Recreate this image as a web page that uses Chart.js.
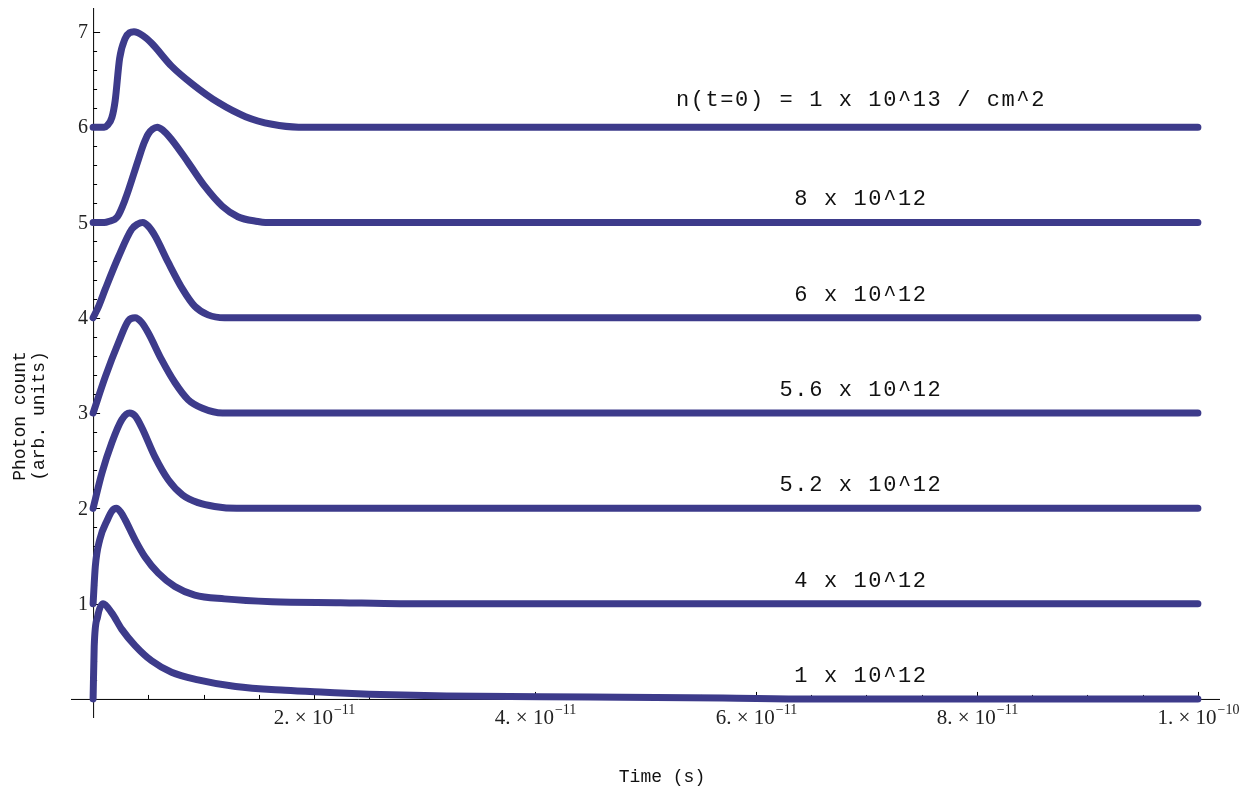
<!DOCTYPE html>
<html>
<head>
<meta charset="utf-8">
<title>Photon count vs time</title>
<script src="https://cdn.jsdelivr.net/npm/chart.js@4/dist/chart.umd.min.js"></script>
<style>
	html, body { margin: 0; padding: 0; background: #fff; }
	#wrapper { width: 1253px; height: 790px; }
</style>
</head>
<body>
<div id="wrapper">
	<canvas id="photon-chart" width="1253" height="790"></canvas>
</div>
<script>
// time in units of 1e-11 s, photon count in arb. units (each curve offset by 1)
const t1e12 = [0, 0.01, 0.04, 0.09, 0.17, 0.26, 0.38, 0.53, 0.71, 0.95, 1.29, 1.74, 2.1, 2.5, 3.2, 4.5, 5.7, 6.5, 10];
const y1e12 = [0, 0.55, 0.86, 1.0, 0.9, 0.73, 0.56, 0.4, 0.28, 0.2, 0.13, 0.09, 0.07, 0.05, 0.03, 0.02, 0.01, 0, 0];

const t4e12 = [0, 0.02, 0.06, 0.13, 0.17, 0.21, 0.25, 0.29, 0.38, 0.47, 0.59, 0.74, 0.92, 1.19, 1.62, 2.24, 2.78, 10];
const y4e12 = [1, 1.39, 1.67, 1.88, 1.97, 2.0, 1.96, 1.88, 1.67, 1.49, 1.32, 1.18, 1.09, 1.05, 1.02, 1.01, 1.0, 1];

const t52e12 = [0, 0.08, 0.17, 0.26, 0.33, 0.38, 0.44, 0.56, 0.68, 0.81, 0.95, 1.1, 1.3, 10];
const y52e12 = [2, 2.37, 2.69, 2.93, 3.0, 2.97, 2.85, 2.54, 2.3, 2.14, 2.06, 2.02, 2.0, 2];

const t56e12 = [0, 0.11, 0.23, 0.32, 0.38, 0.44, 0.5, 0.62, 0.74, 0.86, 0.99, 1.17, 10];
const y56e12 = [3, 3.38, 3.74, 3.97, 4.0, 3.95, 3.84, 3.56, 3.32, 3.14, 3.05, 3.0, 3];

const t6e12 = [0, 0.05, 0.11, 0.23, 0.35, 0.4, 0.45, 0.5, 0.56, 0.68, 0.81, 0.92, 1.04, 1.19, 10];
const y6e12 = [4, 4.12, 4.3, 4.64, 4.93, 4.98, 5.0, 4.96, 4.86, 4.58, 4.3, 4.12, 4.03, 4.0, 4];

const t8e12 = [0, 0.1, 0.14, 0.22, 0.29, 0.41, 0.46, 0.5, 0.54, 0.58, 0.63, 0.71, 0.86, 1.01, 1.17, 1.31, 1.49, 1.56, 10];
const y8e12 = [5, 5, 5.01, 5.06, 5.24, 5.66, 5.83, 5.93, 5.98, 6.0, 5.97, 5.87, 5.63, 5.38, 5.17, 5.06, 5.01, 5.0, 5];

const t1e13 = [0, 0.1, 0.13, 0.17, 0.2, 0.24, 0.29, 0.33, 0.37, 0.45, 0.53, 0.71, 0.9, 1.13, 1.38, 1.62, 1.86, 10];
const y1e13 = [6, 6, 6.02, 6.1, 6.28, 6.72, 6.93, 6.99, 7.0, 6.96, 6.88, 6.64, 6.45, 6.26, 6.11, 6.03, 6.0, 6];

const seriesLabels = [
	"1 x 10^12",
	"4 x 10^12",
	"5.2 x 10^12",
	"5.6 x 10^12",
	"6 x 10^12",
	"8 x 10^12",
	"n(t=0) = 1 x 10^13 / cm^2",
];
const seriesLevels = [0, 1, 2, 3, 4, 5, 6];

const yTickValues = [1, 2, 3, 4, 5, 6, 7];
const xTickValues = [2, 4, 6, 8, 10];
const xTickMantissa = ["2.", "4.", "6.", "8.", "1."];
const xTickExponent = ["\u221211", "\u221211", "\u221211", "\u221211", "\u221210"];

const LINE_COLOR = "#3d3b8b";
const MONO = "'Liberation Mono', 'Courier New', monospace";
const SERIF = "'Liberation Serif', 'Times New Roman', serif";

function toPoints(ts, ys) {
	return ts.map((t, i) => ({ x: t, y: ys[i] }));
}

let allSeries = [
	[t1e12, y1e12],
	[t4e12, y4e12],
	[t52e12, y52e12],
	[t56e12, y56e12],
	[t6e12, y6e12],
	[t8e12, y8e12],
	[t1e13, y1e13],
];

let datasets = allSeries.map((s, i) => ({
	label: seriesLabels[i],
	data: toPoints(s[0], s[1]),
	borderColor: LINE_COLOR,
	backgroundColor: LINE_COLOR,
	borderWidth: 7,
	pointRadius: 0,
	cubicInterpolationMode: "monotone",
	borderCapStyle: "round",
	borderJoinStyle: "round",
	clip: false,
}));

// Mathematica-style axes crossing at the origin, minor ticks and text
const axesPlugin = {
	id: "mmaAxes",
	beforeDatasetsDraw(chart) {
		let { ctx, chartArea, scales } = chart;
		let xs = scales.x, ys = scales.y;
		let x0 = xs.getPixelForValue(0);
		let y0 = ys.getPixelForValue(0);

		ctx.save();
		ctx.strokeStyle = "#000";
		ctx.lineWidth = 1;
		ctx.beginPath();
		ctx.moveTo(chartArea.left, y0 + 0.5);
		ctx.lineTo(chartArea.right, y0 + 0.5);
		ctx.moveTo(x0 + 0.5, chartArea.top);
		ctx.lineTo(x0 + 0.5, chartArea.bottom);
		ctx.stroke();

		// y ticks: major every 1, minor every 0.2
		ctx.beginPath();
		for (let k = 1; k <= 35; k++) {
			let v = k / 5;
			let py = Math.round(ys.getPixelForValue(v)) + 0.5;
			let len = k % 5 === 0 ? 7 : 4;
			ctx.moveTo(x0, py);
			ctx.lineTo(x0 + len, py);
		}
		// x ticks: major every 2, minor every 0.5
		for (let k = 1; k <= 20; k++) {
			let v = k / 2;
			let px = Math.round(xs.getPixelForValue(v)) + 0.5;
			let len = k % 4 === 0 ? 7 : 4;
			ctx.moveTo(px, y0);
			ctx.lineTo(px, y0 - len);
		}
		ctx.stroke();

		ctx.fillStyle = "#222";
		ctx.font = "20px " + SERIF;
		ctx.textAlign = "right";
		ctx.textBaseline = "middle";
		yTickValues.forEach((v) => {
			ctx.fillText(String(v), x0 - 5, ys.getPixelForValue(v) + 1);
		});

		ctx.textAlign = "left";
		ctx.textBaseline = "alphabetic";
		xTickValues.forEach((v, i) => {
			let base = xTickMantissa[i] + " \u00d7 10";
			ctx.font = "21px " + SERIF;
			let wBase = ctx.measureText(base).width;
			ctx.font = "14px " + SERIF;
			let wExp = ctx.measureText(xTickExponent[i]).width;
			let left = xs.getPixelForValue(v) - (wBase + wExp) / 2;
			ctx.font = "21px " + SERIF;
			ctx.fillText(base, left, y0 + 25);
			ctx.font = "14px " + SERIF;
			ctx.fillText(xTickExponent[i], left + wBase + 1, y0 + 15);
		});

		// axis titles
		ctx.fillStyle = "#111";
		ctx.font = "18px " + MONO;
		ctx.textAlign = "center";
		ctx.textBaseline = "middle";
		ctx.fillText("Time (s)", 662, 777);

		ctx.save();
		ctx.translate(20, 416);
		ctx.rotate(-Math.PI / 2);
		ctx.fillText("Photon count", 0, 0);
		ctx.restore();
		ctx.save();
		ctx.translate(39, 416);
		ctx.rotate(-Math.PI / 2);
		ctx.fillText("(arb. units)", 0, 0);
		ctx.restore();

		ctx.restore();
	},
	afterDatasetsDraw(chart) {
		let { ctx, scales } = chart;
		ctx.save();
		ctx.fillStyle = "#111";
		ctx.font = "22px " + MONO;
		ctx.letterSpacing = "1.6px";
		ctx.textAlign = "center";
		ctx.textBaseline = "middle";
		seriesLabels.forEach((lbl, i) => {
			let px = scales.x.getPixelForValue(6.95);
			let lift = i === 6 ? 0.28 : 0.24;
			let py = scales.y.getPixelForValue(seriesLevels[i] + lift);
			ctx.fillText(lbl, px, py);
		});
		ctx.restore();
	},
};

let ctx = document.getElementById("photon-chart").getContext("2d");
let photonChart = new Chart(ctx, {
	type: "line",
	data: { datasets: datasets },
	options: {
		responsive: false,
		animation: false,
		layout: {
			padding: { left: 71, right: 33, top: 8, bottom: 72 },
		},
		scales: {
			x: { type: "linear", min: -0.2, max: 10.2, display: false },
			y: { type: "linear", min: -0.2, max: 7.25, display: false },
		},
		plugins: {
			legend: { display: false },
			tooltip: { enabled: false },
		},
	},
	plugins: [axesPlugin],
});
</script>
</body>
</html>
